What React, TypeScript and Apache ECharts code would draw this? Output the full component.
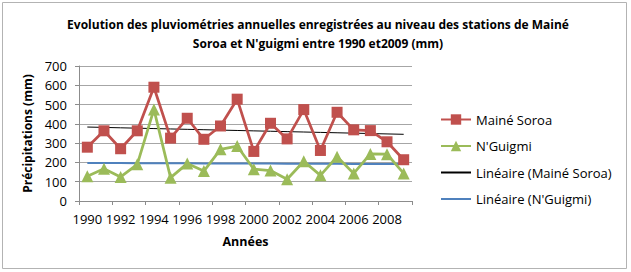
import React, { useEffect, useRef } from "react";
import * as echarts from "echarts";

const years = [
  "1990", "1991", "1992", "1993", "1994", "1995", "1996", "1997", "1998", "1999",
  "2000", "2001", "2002", "2003", "2004", "2005", "2006", "2007", "2008", "2009",
];
const maineSoroa = [279, 364, 271, 364, 590, 326, 429, 320, 389, 528, 257, 403, 322, 474, 262, 460, 369, 365, 307, 214];
const nGuigmi = [128, 167, 125, 190, 475, 121, 194, 155, 268, 285, 165, 158, 113, 206, 133, 230, 143, 244, 243, 143];
const yTicks = [0, 100, 200, 300, 400, 500, 600, 700];

// least-squares line over the category index
function linearFit(values: number[]): number[] {
  const n = values.length;
  const xs = values.map((_, i) => i + 1);
  const mx = xs.reduce((a, b) => a + b, 0) / n;
  const my = values.reduce((a, b) => a + b, 0) / n;
  let num = 0;
  let den = 0;
  for (let i = 0; i < n; i++) {
    num += (xs[i] - mx) * (values[i] - my);
    den += (xs[i] - mx) * (xs[i] - mx);
  }
  const slope = num / den;
  return xs.map((x) => +(my + slope * (x - mx)).toFixed(2));
}

const FONT = "'Open Sans', 'Liberation Sans', sans-serif";

export default function App() {
  const ref = useRef<HTMLDivElement>(null);
  useEffect(() => {
    if (!ref.current) return;
    const chart = echarts.init(ref.current, null, { renderer: "svg" });
    chart.setOption({
      animation: false,
      backgroundColor: "#ffffff",
      textStyle: { fontFamily: FONT },
      title: {
        text: "Evolution des pluviométries annuelles enregistrées au niveau des stations de Mainé\nSoroa et N'guigmi entre 1990 et2009 (mm)",
        left: 313,
        textAlign: "center",
        top: 10,
        textStyle: { fontSize: 12, fontWeight: "bold", color: "#000", lineHeight: 19, fontFamily: FONT },
      },
      graphic: [
        {
          type: "rect",
          shape: { x: 2.5, y: 2.5, width: 624, height: 266 },
          style: { fill: "none", stroke: "#b3b3b3", lineWidth: 1 },
        },
      ],
      grid: { left: 79, top: 66, width: 333, height: 135 },
      legend: {
        orient: "vertical",
        left: 435,
        top: 108,
        itemGap: 13.5,
        itemWidth: 30,
        itemHeight: 13,
        textStyle: { fontSize: 13, color: "#000", fontFamily: FONT },
        data: [
          "Mainé Soroa",
          "N'Guigmi",
          { name: "Linéaire (Mainé Soroa)", itemStyle: { opacity: 0 } },
          { name: "Linéaire (N'Guigmi)", itemStyle: { opacity: 0 } },
        ],
      },
      xAxis: {
        type: "category",
        data: years,
        boundaryGap: true,
        name: "Années",
        nameLocation: "middle",
        nameGap: 34,
        nameTextStyle: { fontSize: 12.5, fontWeight: "bold", color: "#000" },
        axisLine: { lineStyle: { color: "#8c8c8c" } },
        axisTick: { show: true, inside: false, length: 4, lineStyle: { color: "#8c8c8c" } },
        axisLabel: { interval: 1, hideOverlap: false, fontSize: 13, color: "#000", margin: 11 },
      },
      yAxis: {
        type: "value",
        min: 0,
        max: 700,
        interval: 100,
        name: "Précipitations (mm)",
        nameLocation: "middle",
        nameGap: 45,
        nameRotate: 90,
        nameTextStyle: { fontSize: 12, fontWeight: "bold", color: "#000" },
        axisLine: { show: true, lineStyle: { color: "#8c8c8c" } },
        axisTick: { show: true, length: 4, lineStyle: { color: "#8c8c8c" } },
        axisLabel: {
          fontSize: 13,
          color: "#000",
          margin: 12,
          formatter: (v: number) => (yTicks.includes(v) ? String(v) : ""),
        },
        splitLine: { lineStyle: { color: "#a6a6a6" } },
      },
      series: [
        {
          name: "Mainé Soroa",
          type: "line",
          data: maineSoroa,
          symbol: "rect",
          symbolSize: 11,
          showAllSymbol: true,
          lineStyle: { color: "#C0504D", width: 2.75 },
          itemStyle: { color: "#C0504D" },
          z: 3,
        },
        {
          name: "N'Guigmi",
          type: "line",
          data: nGuigmi,
          symbol: "triangle",
          symbolSize: 12,
          showAllSymbol: true,
          lineStyle: { color: "#9BBB59", width: 2.75 },
          itemStyle: { color: "#9BBB59" },
          z: 3,
        },
        {
          name: "Linéaire (Mainé Soroa)",
          type: "line",
          data: linearFit(maineSoroa),
          symbol: "none",
          lineStyle: { color: "#000", width: 1 },
          itemStyle: { color: "#000" },
          z: 2,
        },
        {
          name: "Linéaire (N'Guigmi)",
          type: "line",
          data: linearFit(nGuigmi),
          symbol: "none",
          lineStyle: { color: "#4F81BD", width: 2 },
          itemStyle: { color: "#4F81BD" },
          z: 2,
        },
      ],
    });
    return () => chart.dispose();
  }, []);
  return (
    <div
      ref={ref}
      style={{ position: "fixed", left: 0, top: 0, width: 631, height: 272 }}
    />
  );
}
